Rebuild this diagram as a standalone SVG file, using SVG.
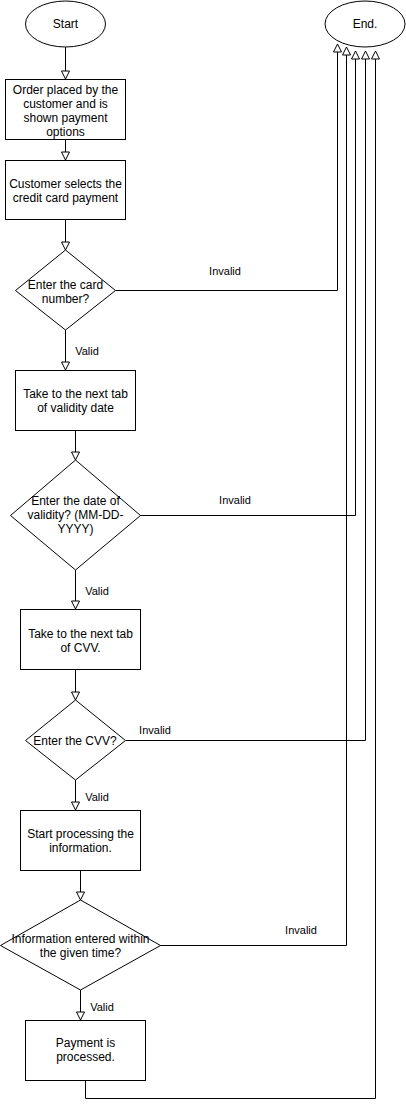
<svg xmlns="http://www.w3.org/2000/svg" width="406" height="1111" viewBox="0 0 406 1111">
<style>
.n{fill:#fff;stroke:#000;stroke-width:1}
.t{font-family:"Liberation Sans",Arial,sans-serif;font-size:12px;fill:#000;text-anchor:middle}
.l{font-family:"Liberation Sans",Arial,sans-serif;font-size:11px;fill:#000;text-anchor:middle}
.e{fill:none;stroke:#000;stroke-width:1;marker-end:url(#arr)}
</style>
<defs>
<marker id="arr" markerUnits="userSpaceOnUse" markerWidth="10" markerHeight="10" refX="8" refY="4" orient="auto" viewBox="-1 -1 10 10">
<path d="M0,0 L8,4 L0,8 Z" fill="#fff" stroke="#000" stroke-width="1"/>
</marker>
</defs>
<rect width="406" height="1111" fill="#fff"/>
<g id="connectors">
<path class="e" d="M65.5,47 L65.5,79"/>
<path class="e" d="M65.5,140 L65.5,160"/>
<path class="e" d="M65.5,220 L65.5,250"/>
<path class="e" d="M65.5,330 L65.5,370"/>
<path class="e" d="M75.5,430 L75.5,460"/>
<path class="e" d="M75.5,570 L75.5,609"/>
<path class="e" d="M75.5,670 L75.5,700"/>
<path class="e" d="M75.5,780 L75.5,810"/>
<path class="e" d="M80.5,870 L80.5,900"/>
<path class="e" d="M80.5,990 L80.5,1020"/>
<path class="e" d="M115,290.5 H337.5 V44"/>
<path class="e" d="M140,515.5 H355.5 V51"/>
<path class="e" d="M126,740.5 H365.5 V51"/>
<path class="e" d="M160,945.5 H346.5 V47"/>
<path class="e" d="M85.5,1080 V1098.5 H375.5 V51"/>
<text class="l" x="225" y="275">Invalid</text>
<text class="l" x="87" y="355">Valid</text>
<text class="l" x="235" y="504">Invalid</text>
<text class="l" x="97" y="595">Valid</text>
<text class="l" x="155" y="734">Invalid</text>
<text class="l" x="97" y="801">Valid</text>
<text class="l" x="301" y="934">Invalid</text>
<text class="l" x="102" y="1011">Valid</text>
</g>
<g id="start">
<ellipse class="n" cx="65.5" cy="24" rx="40" ry="23"/>
<text class="t" x="65.5" y="28">Start</text>
</g>
<g id="end">
<ellipse class="n" cx="365" cy="24" rx="40" ry="23"/>
<text class="t" x="365" y="28">End.</text>
</g>
<g id="order">
<rect class="n" x="5.5" y="79.5" width="120" height="60"/>
<text class="t" x="65.5" y="93.5">Order placed by the</text>
<text class="t" x="65.5" y="107.5">customer and is</text>
<text class="t" x="65.5" y="121.5">shown payment</text>
<text class="t" x="65.5" y="135.5">options</text>
</g>
<g id="select">
<rect class="n" x="5.5" y="160.5" width="120" height="59"/>
<text class="t" x="65.5" y="187.5">Customer selects the</text>
<text class="t" x="65.5" y="201.5">credit card payment</text>
</g>
<g id="cardnumber">
<path class="n" d="M65.5,250 L115.5,290.5 L65.5,330 L15.5,290.5 Z"/>
<text class="t" x="65.5" y="289">Enter the card</text>
<text class="t" x="65.5" y="303">number?</text>
</g>
<g id="validitytab">
<rect class="n" x="15.5" y="370.5" width="120" height="60"/>
<text class="t" x="75.5" y="398">Take to the next tab</text>
<text class="t" x="75.5" y="412">of validity date</text>
</g>
<g id="validity">
<path class="n" d="M75.5,460 L140.5,515.5 L75.5,570 L10.5,515.5 Z"/>
<text class="t" x="75.5" y="505">Enter the date of</text>
<text class="t" x="75.5" y="519">validity? (MM-DD-</text>
<text class="t" x="75.5" y="533">YYYY)</text>
</g>
<g id="cvvtab">
<rect class="n" x="20.5" y="609.5" width="120" height="60"/>
<text class="t" x="80.5" y="637.5">Take to the next tab</text>
<text class="t" x="80.5" y="651.5">of CVV.</text>
</g>
<g id="cvv">
<path class="n" d="M75.5,700 L125.5,740.5 L75.5,780 L25.5,740.5 Z"/>
<text class="t" x="75" y="745">Enter the CVV?</text>
</g>
<g id="processing">
<rect class="n" x="20.5" y="810.5" width="120" height="60"/>
<text class="t" x="80.5" y="837.5">Start processing the</text>
<text class="t" x="80.5" y="851.5">information.</text>
</g>
<g id="time">
<path class="n" d="M80.5,900 L160.5,945.5 L80.5,990 L0.5,945.5 Z"/>
<text class="t" x="80.5" y="942.5">Information entered within</text>
<text class="t" x="80.5" y="956.5">the given time?</text>
</g>
<g id="payment">
<rect class="n" x="25.5" y="1020.5" width="120" height="60"/>
<text class="t" x="85.5" y="1046.5">Payment is</text>
<text class="t" x="85.5" y="1060.5">processed.</text>
</g>
</svg>
